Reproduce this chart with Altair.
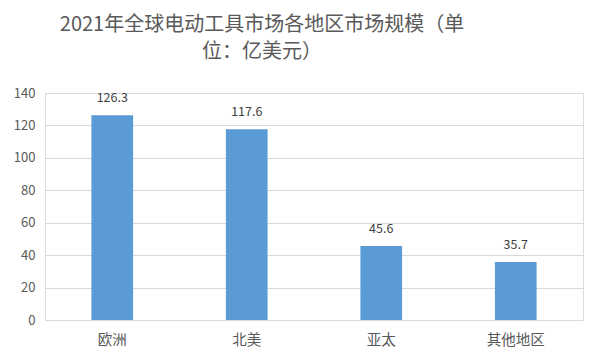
import altair as alt
import pandas as pd

regions = ["欧洲", "北美", "亚太", "其他地区"]
values = [126.3, 117.6, 45.6, 35.7]
y_ticks = [0, 20, 40, 60, 80, 100, 120, 140]
title_lines = ["2021年全球电动工具市场各地区市场规模（单", "位：亿美元）"]

df = pd.DataFrame({"region": regions, "value": values})
FONT = "Noto Sans CJK SC"

base = alt.Chart(df).encode(
    x=alt.X("region:N", sort=regions, title=None,
            scale=alt.Scale(paddingInner=0.69, paddingOuter=0.345),
            axis=alt.Axis(labelAngle=0, labelFontSize=14.5, labelColor="#595959",
                          labelFont=FONT, ticks=False, domain=False, labelPadding=13,
                          grid=False)),
    y=alt.Y("value:Q", title=None,
            scale=alt.Scale(domain=[0, 140]),
            axis=alt.Axis(values=y_ticks, labelFontSize=13, labelColor="#595959",
                          labelFont=FONT, ticks=False, domain=False, labelPadding=10,
                          gridColor="#D9D9D9", gridWidth=1)),
)

bars = base.mark_bar(color="#5B9BD5")
labels = base.mark_text(baseline="alphabetic", dy=-13, fontSize=12.5, color="#404040",
                        font=FONT).encode(text=alt.Text("value:Q", format=".1f"))

chart = alt.layer(bars, labels).properties(
    width=538, height=227,
    autosize=alt.AutoSizeParams(type="none"),
    padding={"left": 37, "top": 85, "right": 11, "bottom": 34},
    title=alt.Title(title_lines, anchor="middle", frame="group", dx=-52,
                    fontSize=20, font=FONT, fontWeight="normal", color="#595959",
                    lineHeight=27, offset=25),
).configure_view(stroke=None).configure(background="white")

chart.save("out.html", embed_options={"renderer": "svg", "actions": False})
